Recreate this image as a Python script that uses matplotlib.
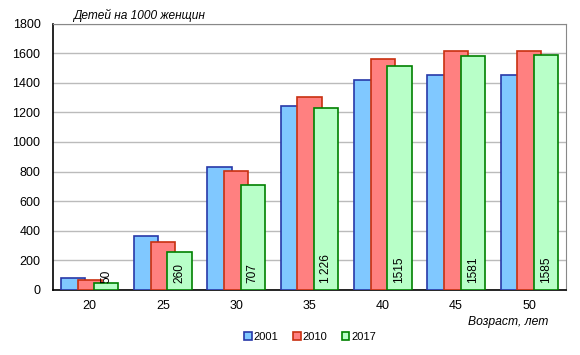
import matplotlib
matplotlib.use("Agg")
import matplotlib.pyplot as plt
import numpy as np
from matplotlib.patches import Patch

plt.rcParams['font.family'] = ['Liberation Sans', 'DejaVu Sans']

ages = ["20", "25", "30", "35", "40", "45", "50"]
v2001 = [80, 365, 830, 1240, 1420, 1450, 1450]
v2010 = [65, 322, 805, 1302, 1558, 1612, 1612]
v2017 = [50, 260, 707, 1226, 1515, 1581, 1585]
labels2017 = ["50", "260", "707", "1\u2009226", "1515", "1581", "1585"]
series_names = ["2001", "2010", "2017"]

fills = ["#80C8FF", "#FF8080", "#B8FFC8"]
edges = ["#2838A8", "#C83010", "#008000"]

fig = plt.figure(figsize=(5.8, 3.55), dpi=100)
ax = fig.add_axes([53/580, 1 - 290/355, (566 - 53)/580, (290 - 23.5)/355])

x = np.arange(len(ages))
w = 0.33
off = 0.227
for i, vals in enumerate([v2001, v2010, v2017]):
    ax.bar(x + (i - 1) * off, vals, width=w, color=fills[i], edgecolor=edges[i],
           linewidth=1.2, zorder=3 + i)

for xi, lab in zip(x, labels2017):
    ax.text(xi + off, 45, lab, rotation=90, ha='center', va='bottom',
            fontsize=8.6, color='black', zorder=10)

ax.set_xlim(-0.5, len(ages) - 0.5)
ax.set_ylim(0, 1800)
ax.set_yticks(np.arange(0, 1801, 200))
ax.set_xticks(x)
ax.set_xticklabels(ages)
ax.tick_params(axis='both', length=0, labelsize=9, pad=7)
ax.tick_params(axis='y', pad=9)
ax.grid(axis='y', color='#BBBBBB', linewidth=1, zorder=0)
ax.set_axisbelow(True)
for s in ['top', 'right']:
    ax.spines[s].set_color('#888888')
for s in ['left', 'bottom']:
    ax.spines[s].set_color('black')
    ax.spines[s].set_linewidth(1.2)

fig.text(73/580, 1 - 15/355, "Детей на 1000 женщин", fontsize=8.6, style='italic',
         ha='left', va='center')
fig.text(548/580, 1 - 322/355, "Возраст, лет", fontsize=8.7, style='italic',
         ha='right', va='center')

handles = [Patch(facecolor=fills[i], edgecolor=edges[i], linewidth=1.2) for i in range(3)]
fig.legend(handles, series_names, loc='center', bbox_to_anchor=(310/580, 1 - 337/355),
           ncol=3, frameon=False, fontsize=8, handlelength=0.7, handleheight=0.7,
           handletextpad=0.15, columnspacing=1.3)

fig.savefig("out.png", dpi=100)
